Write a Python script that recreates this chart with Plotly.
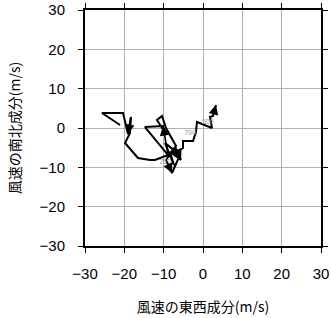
import plotly.graph_objects as go

# Hodograph wind components (m/s)
u = [3.30, 2.54, 1.78, 2.29, -1.53, -1.78, -2.54, -5.09, -5.09, -6.61, -5.59,
     -8.39, -7.37, -9.66, -5.85, -7.88, -9.41, -6.86, -9.41, -10.42, -11.70,
     -9.92, -10.17, -14.75, -8.90, -12.20, -13.48, -16.53, -19.83, -18.56,
     -18.31, -19.07, -20.34, -25.68, -21.10]
v = [5.85, 3.05, 2.80, 0.00, 1.53, -1.02, -3.31, -3.31, -5.09, -5.85, -8.14,
     -6.10, -9.41, -3.81, -6.86, -11.44, -8.14, -4.58, 0.00, 3.05, 2.03,
     -0.76, 0.51, 0.25, -6.86, -8.14, -8.14, -7.63, -3.81, -1.27,
     2.80, -1.53, 3.81, 3.81, 0.76]

# arrow segments: (tail index, head index)
arrow_pairs = [(1, 0), (9, 10), (24, 22), (30, 31), (13, 14), (16, 15)]

# pressure labels
lab_text = ["500", "700", "250"]
lab_u = [1.2, -3.3, -9.6]
lab_v = [1.4, -1.3, -8.6]

xticks = [-30, -20, -10, 0, 10, 20, 30]
yticks = [-30, -20, -10, 0, 10, 20, 30]

fig = go.Figure()
fig.add_trace(go.Scatter(x=u, y=v, mode="lines",
                         line=dict(color="black", width=2), hoverinfo="skip"))
fig.add_trace(go.Scatter(x=lab_u, y=lab_v, mode="text", text=lab_text,
                         textfont=dict(size=7, color="#999999",
                                       family="Liberation Sans"),
                         hoverinfo="skip"))

for t, h in arrow_pairs:
    fig.add_annotation(x=u[h], y=v[h], ax=u[t], ay=v[t], xref="x", yref="y",
                       axref="x", ayref="y", showarrow=True, arrowhead=2,
                       arrowsize=1.2, arrowwidth=1.6, arrowcolor="black",
                       text="", standoff=0, startstandoff=0)

axis_common = dict(
    range=[-30, 30], ticks="outside", ticklen=5,
    tickwidth=1, tickcolor="black", showline=True, linecolor="black",
    linewidth=2, mirror="ticks", showgrid=True, gridcolor="#b0b0b0",
    gridwidth=1, zeroline=False, automargin=False,
    tickfont=dict(family="Liberation Sans", size=15, color="black"),
    title_font=dict(family="Noto Sans CJK JP", size=14, color="black"),
)

fig.update_xaxes(**axis_common, tickvals=xticks,
                 title_text="風速の東西成分(m/s)",
                 title_standoff=21, ticklabelstandoff=8)
fig.update_yaxes(**axis_common, tickvals=yticks,
                 title_text="風速の南北成分(m/s)",
                 title_standoff=16, ticklabelstandoff=10)

fig.update_layout(width=331, height=318, showlegend=False,
                  margin=dict(l=85, r=10, t=10, b=72, autoexpand=False),
                  plot_bgcolor="white", paper_bgcolor="white")

fig.write_html("out.html")
